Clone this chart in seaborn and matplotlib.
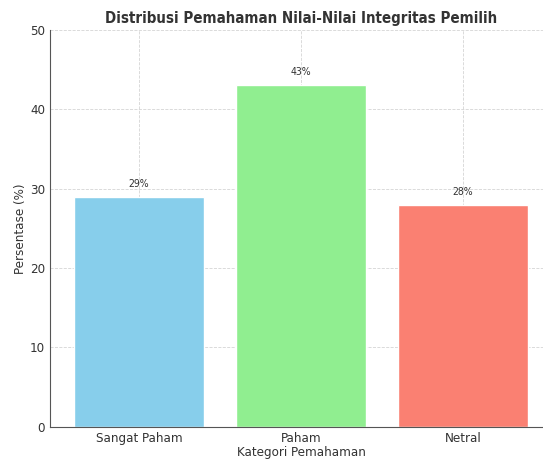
import matplotlib
matplotlib.use("Agg")
import matplotlib.pyplot as plt
import pandas as pd
import seaborn as sns

categories = ["Sangat Paham", "Paham", "Netral"]
percentages = [29, 43, 28]
bar_colors = ["skyblue", "lightgreen", "salmon"]

df = pd.DataFrame({"Kategori": categories, "Persentase": percentages})

sns.set_style("white")
plt.rcParams["font.family"] = ["DejaVu Sans"]
plt.rcParams["font.stretch"] = "condensed"

fig = plt.figure(figsize=(5.43, 4.59), dpi=100)
ax = fig.add_axes([0.092, 0.070, 0.925, 0.865])

sns.barplot(data=df, x="Kategori", y="Persentase", hue="Kategori",
            palette=bar_colors, width=0.8, saturation=1, legend=False, ax=ax)

# percentage labels above each bar
for i, v in enumerate(percentages):
    ax.text(i, v + 1, f"{v}%", ha="center", va="bottom", fontsize=7.5, color="#333333")

ax.set_ylim(0, 50)
ax.set_xlim(-0.55, 2.55)
ax.set_title("Distribusi Pemahaman Nilai-Nilai Integritas Pemilih",
             fontsize=10.8, fontweight="bold", color="#333333", pad=5)
ax.set_xlabel("Kategori Pemahaman", fontsize=9.5, color="#333333", labelpad=1)
ax.set_ylabel("Persentase (%)", fontsize=9.5, color="#333333", labelpad=2)
ax.tick_params(axis="x", labelsize=9.5, colors="#333333", length=2, pad=1.5)
ax.tick_params(axis="y", labelsize=9.5, colors="#333333", length=2, pad=1.5)
ax.grid(True, linestyle="--", linewidth=0.6, color="#d5d5d5")
ax.set_axisbelow(True)
for side in ["top", "right"]:
    ax.spines[side].set_visible(False)
for side in ["left", "bottom"]:
    ax.spines[side].set_color("#555555")

fig.savefig("out.png", dpi=100)
